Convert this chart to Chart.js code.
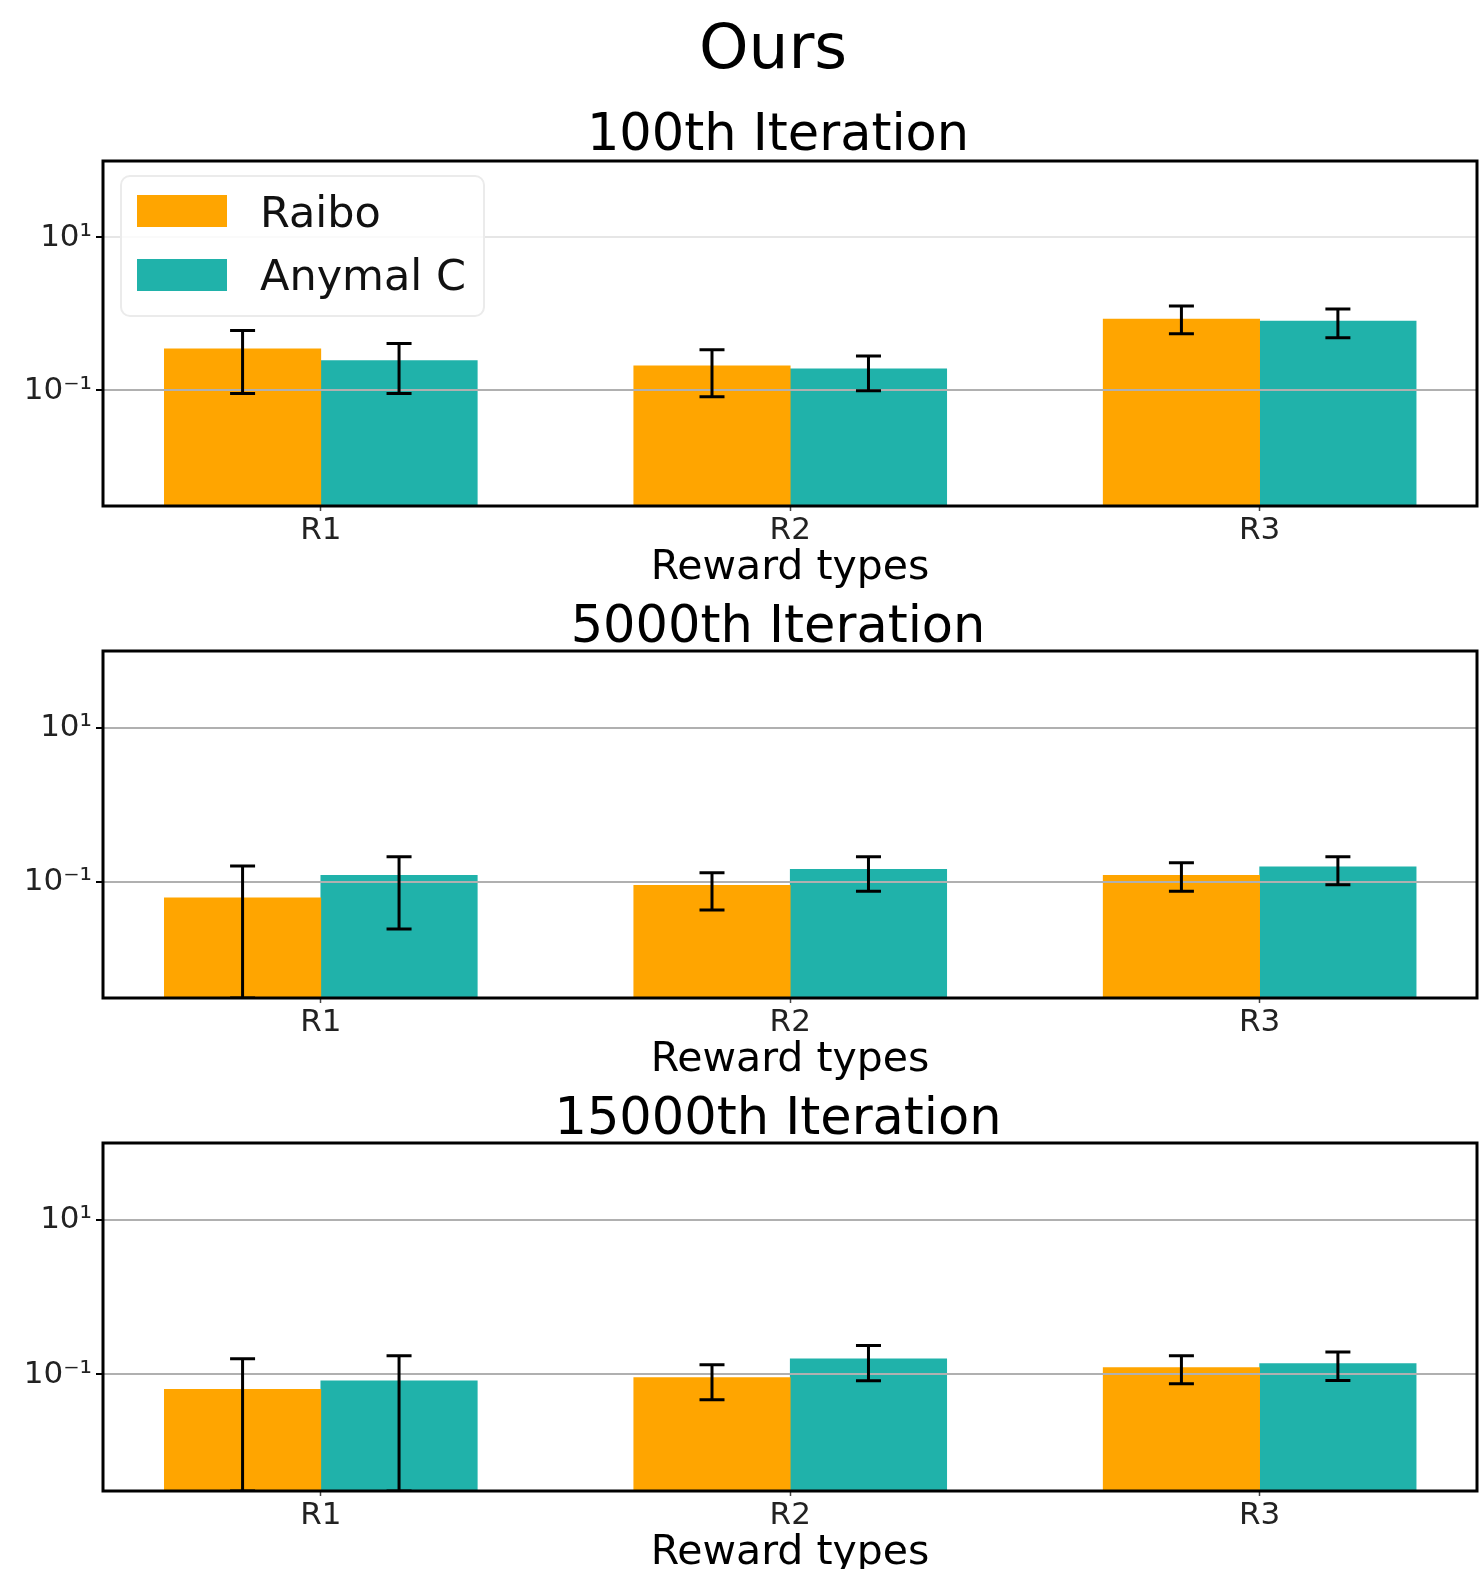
<!DOCTYPE html>
<html>
<head>
<meta charset="utf-8">
<title>Ours</title>
<script src="https://cdn.jsdelivr.net/npm/chart.js@4.4.0/dist/chart.umd.min.js"></script>
<style>
  html, body { margin: 0; padding: 0; background: #fff; }
  body { width: 1479px; height: 1569px; position: relative; overflow: hidden;
         font-family: "DejaVu Sans", sans-serif; color: #000; }
  .txt { position: absolute; white-space: nowrap; line-height: 1; transform: translateX(-50%); }
  canvas.panel { position: absolute; left: 0; }
  #legend { position: absolute; left: 120px; top: 175px; width: 361px; height: 138px;
            border: 2px solid #ebebeb; border-radius: 10px; background: rgba(255,255,255,0.8); z-index: 2; }
  #legend .patch { position: absolute; left: 15px; width: 90px; height: 32px; }
  #legend .lbl { position: absolute; left: 138px; font-size: 43px; line-height: 1; white-space: nowrap; color: #111; }
</style>
</head>
<body>
<div class="txt" style="left:773px; top:15px; font-size:63px;">Ours</div>
<div id="panels"></div>
<div id="legend"></div>

<script>
const categories = ['R1', 'R2', 'R3'];
const seriesNames = ['Raibo', 'Anymal C'];
const seriesColors = ['orange', 'lightseagreen'];
const iterations = ['100th Iteration', '5000th Iteration', '15000th Iteration'];
const xTitle = 'Reward types';

const yTicks = [0.1, 10];
const yTickLabels = ['10\u207B\u00B9', '10\u00B9'];

// 100th iteration
const raibo100 = [0.35, 0.21, 0.86];
const raibo100Lo = [0.091, 0.083, 0.55];
const raibo100Hi = [0.61, 0.34, 1.27];
const anymal100 = [0.246, 0.192, 0.81];
const anymal100Lo = [0.091, 0.099, 0.49];
const anymal100Hi = [0.41, 0.283, 1.16];

// 5000th iteration (0 = lower end below the axis)
const raibo5000 = [0.062, 0.090, 0.121];
const raibo5000Lo = [0, 0.043, 0.0755];
const raibo5000Hi = [0.160, 0.131, 0.177];
const anymal5000 = [0.121, 0.145, 0.157];
const anymal5000Lo = [0.0244, 0.0755, 0.0914];
const anymal5000Hi = [0.212, 0.212, 0.212];

// 15000th iteration
const raibo15000 = [0.064, 0.091, 0.123];
const raibo15000Lo = [0, 0.047, 0.0757];
const raibo15000Hi = [0.160, 0.134, 0.175];
const anymal15000 = [0.083, 0.160, 0.138];
const anymal15000Lo = [0, 0.083, 0.0835];
const anymal15000Hi = [0.175, 0.237, 0.195];

const panels = [
  { title: iterations[0], top: 161, bottom: 506, titleBase: 150,
    series: [[raibo100, raibo100Lo, raibo100Hi], [anymal100, anymal100Lo, anymal100Hi]],
    gridTop: '#e6e6e6' },
  { title: iterations[1], top: 651, bottom: 998, titleBase: 642,
    series: [[raibo5000, raibo5000Lo, raibo5000Hi], [anymal5000, anymal5000Lo, anymal5000Hi]],
    gridTop: '#b0b0b0' },
  { title: iterations[2], top: 1143, bottom: 1491, titleBase: 1134,
    series: [[raibo15000, raibo15000Lo, raibo15000Hi], [anymal15000, anymal15000Lo, anymal15000Hi]],
    gridTop: '#b0b0b0' }
];

const FONT = '"DejaVu Sans", sans-serif';
const barWidth = 1 / 3;
const padTop = 30;
const xAxisH = 40;

// error bars and the axes frame, drawn on top of everything
const errorBars = {
  id: 'errorBars',
  afterDraw(chart) {
    const {ctx, chartArea: a, scales: {y}} = chart;
    ctx.save();
    ctx.beginPath();
    ctx.rect(a.left, a.top, a.right - a.left, a.bottom - a.top);
    ctx.clip();
    ctx.strokeStyle = '#000';
    ctx.lineWidth = 3;
    chart.data.datasets.forEach((ds, d) => {
      chart.getDatasetMeta(d).data.forEach((bar, i) => {
        const yLo = y.getPixelForValue(ds.errLo[i]);
        const yHi = y.getPixelForValue(ds.errHi[i]);
        ctx.beginPath();
        ctx.moveTo(bar.x, yLo); ctx.lineTo(bar.x, yHi);
        ctx.moveTo(bar.x - 12.5, yLo); ctx.lineTo(bar.x + 12.5, yLo);
        ctx.moveTo(bar.x - 12.5, yHi); ctx.lineTo(bar.x + 12.5, yHi);
        ctx.stroke();
      });
    });
    ctx.restore();
    ctx.save();
    ctx.strokeStyle = '#000';
    ctx.lineWidth = 3;
    ctx.strokeRect(a.left, a.top, a.right - a.left, a.bottom - a.top);
    ctx.restore();
  }
};

const holder = document.getElementById('panels');

panels.forEach((p, k) => {
  const h = p.bottom - p.top;
  const cv = document.createElement('canvas');
  cv.className = 'panel';
  cv.width = 1479;
  cv.height = padTop + h + xAxisH;
  cv.style.top = (p.top - padTop) + 'px';
  holder.appendChild(cv);

  const t = document.createElement('div');
  t.className = 'txt';
  t.style.cssText = `left:778px; top:${p.titleBase - 0.846 * 51}px; font-size:51px;`;
  t.textContent = p.title;
  holder.appendChild(t);

  const xl = document.createElement('div');
  xl.className = 'txt';
  xl.style.cssText = `left:790px; top:${p.bottom + 74 - 0.846 * 41}px; font-size:41px;`;
  xl.textContent = xTitle;
  holder.appendChild(xl);

  const datasets = p.series.map((s, d) => ({
    label: seriesNames[d],
    data: s[0].map((v, i) => ({ x: i + (d === 0 ? -barWidth / 2 : barWidth / 2), y: v })),
    errLo: s[1],
    errHi: s[2],
    backgroundColor: seriesColors[d],
    borderWidth: 0,
    grouped: false,
    barPercentage: 1,
    categoryPercentage: 1
  }));

  new Chart(cv.getContext('2d'), {
    type: 'bar',
    data: { datasets },
    options: {
      responsive: false,
      animation: false,
      layout: { padding: { top: padTop, right: 2, left: 0, bottom: 0 } },
      plugins: { legend: { display: false }, title: { display: false }, tooltip: { enabled: false } },
      scales: {
        x: {
          type: 'linear',
          offset: false,
          min: -0.464,
          max: 2.463,
          afterBuildTicks: s => { s.ticks = categories.map((c, i) => ({ value: i })); },
          afterFit: s => { s.height = xAxisH; },
          ticks: {
            callback: (v, i) => categories[i],
            font: { family: FONT, size: 31 },
            color: '#222',
            padding: 1,
            maxRotation: 0,
            autoSkip: false
          },
          grid: { offset: false, drawOnChartArea: false, drawTicks: true, tickLength: 5, tickColor: '#444', tickWidth: 1.5 },
          border: { display: false }
        },
        y: {
          type: 'logarithmic',
          min: Math.pow(10, -2.51),
          max: 100,
          afterBuildTicks: s => { s.ticks = yTicks.map(v => ({ value: v })); },
          afterFit: s => { s.width = 103; },
          ticks: {
            callback: (v, i) => yTickLabels[i],
            font: { family: FONT, size: 31 },
            color: '#222',
            padding: 4,
            autoSkip: false
          },
          grid: {
            z: 1,
            color: c => (c.tick && c.tick.value === 10 ? p.gridTop : '#b0b0b0'),
            lineWidth: 2,
            drawTicks: true,
            tickLength: 7,
            tickColor: '#000',
            tickWidth: 2
          },
          border: { display: false }
        }
      }
    },
    plugins: [errorBars]
  });
});

// legend inside the first panel
const legend = document.getElementById('legend');
seriesNames.forEach((name, d) => {
  const patch = document.createElement('div');
  patch.className = 'patch';
  patch.style.top = (d === 0 ? 18 : 82) + 'px';
  patch.style.background = seriesColors[d];
  legend.appendChild(patch);
  const lbl = document.createElement('div');
  lbl.className = 'lbl';
  lbl.style.top = (d === 0 ? 14 : 77) + 'px';
  lbl.textContent = name;
  legend.appendChild(lbl);
});
</script>
</body>
</html>
